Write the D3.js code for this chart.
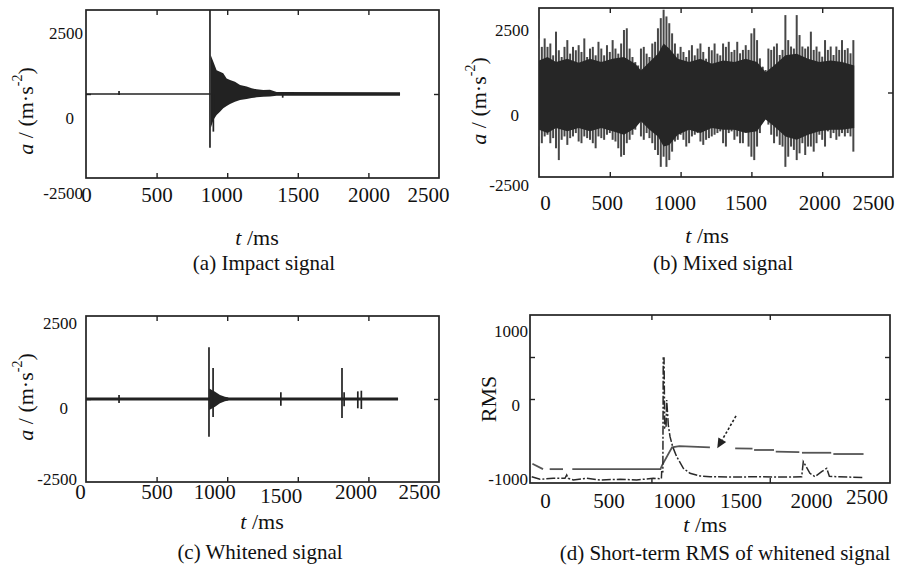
<!DOCTYPE html>
<html lang="en">
<head>
<meta charset="UTF-8">
<title>Impact, mixed and whitened signals</title>
<script src="https://d3js.org/d3.v7.min.js"></script>
<style>
  body { margin: 0; background: #fff; }
  svg text { font-family: "Liberation Serif", "Times New Roman", serif; }
</style>
</head>
<body>
<div id="chart"></div>
<script>
const width = 909, height = 572;

// shared ticks
const timeTicks = [0, 500, 1000, 1500, 2000, 2500];
const accTicks = [-2500, 0, 2500];
const rmsTicks = [-1000, 0, 1000];

// (a) impact signal, m/s^2
const impactEnd = 2224;
const impSpikeT  = [234, 878, 902, 1393];
const impSpikeHi = [90, 2500, 0, 40];
const impSpikeLo = [-30, -1600, -1120, -110];
const impEnvT  = [883, 902, 925, 949, 972, 996, 1020, 1055, 1091, 1138, 1173, 1209, 1256, 1303, 1350, 2224];
const impEnvHi = [1160, 960, 710, 665, 615, 465, 415, 365, 270, 220, 170, 140, 120, 130, 60, 55];
const impEnvLo = [-1020, -775, -625, -525, -425, -355, -300, -230, -180, -150, -120, -100, -80, -75, -50, -50];

// (b) mixed signal: peak per 20 ms bin
const mixStep = 20;
const mixHi = [1600, 1350, 1600, 1350, 1450, 1100, 1800, 1250, 1050, 1350,
  1550, 1150, 1350, 1250, 1400, 1200, 1600, 1050, 1300, 1350,
  1100, 1500, 1300, 1100, 1400, 1200, 1550, 1300, 1150, 1450,
  1850, 1900, 1300, 1050, 900, 800, 1300, 1350, 1150, 1050,
  1450, 1500, 1900, 2200, 2450, 2250, 2050, 1750, 1450, 1150,
  1350, 1200, 1050, 1250, 1400, 1100, 1300, 1450, 1200, 1000,
  1350, 1250, 1450, 1150, 1100, 1450, 1350, 1500, 1200, 1260,
  1500, 1160, 1260, 1400, 1260, 1750, 1900, 1550, 1010, 765,
  666, 1300, 1260, 1360, 1450, 1110, 1260, 2290, 1550, 1360,
  1300, 2290, 1700, 1360, 1300, 1360, 1800, 1260, 1360, 1210,
  1060, 1550, 1260, 1360, 1110, 1360, 1260, 1550, 1260, 1310,
  1160, 1550];
const mixLo = [-1600, -1500, -1300, -1250, -1500, -1350, -1650, -2000, -1400, -1300,
  -1550, -1350, -1300, -1200, -1450, -1500, -1300, -1350, -1400, -1500,
  -1650, -1300, -1350, -1400, -1250, -1200, -1400, -1450, -1650, -1900,
  -1850, -1500, -1400, -1250, -1100, -900, -1300, -1400, -1200, -1350,
  -1500, -1700, -1850, -2200, -1900, -2200, -2000, -1750, -1450, -1400,
  -1250, -1400, -1600, -1500, -1300, -1250, -1200, -1450, -1550, -1400,
  -1350, -1300, -1250, -1200, -1150, -1500, -1600, -1200, -1150, -1400,
  -1300, -1500, -1500, -1150, -1600, -1900, -2000, -1600, -1200, -850,
  -700, -950, -1250, -1500, -1300, -1550, -1600, -2200, -1900, -1600,
  -1700, -2000, -1800, -1500, -1850, -1600, -1600, -1750, -1500, -1250,
  -1400, -1600, -1150, -1350, -1200, -1400, -1300, -1200, -1300, -1200,
  -1300, -1750];
// dense core of the mixed signal
const coreT  = [0, 60, 120, 200, 280, 360, 440, 520, 600, 680, 720, 780, 840, 880, 920, 980, 1060, 1140, 1220, 1300, 1380, 1460, 1540, 1600, 1660, 1740, 1820, 1900, 1980, 2060, 2140, 2226];
const coreHi = [950, 1050, 900, 1000, 880, 1000, 900, 1000, 1050, 850, 650, 900, 1150, 1450, 1300, 1000, 900, 1000, 850, 950, 900, 1000, 900, 600, 800, 1100, 1150, 1000, 900, 950, 900, 800];
const coreLo = [-1100, -1200, -1050, -1150, -1050, -1150, -1050, -1150, -1250, -1050, -850, -1100, -1300, -1600, -1550, -1250, -1100, -1200, -1050, -1100, -1100, -1200, -1150, -800, -1000, -1300, -1400, -1250, -1150, -1100, -1100, -1050];

// (c) whitened signal
const whitEnd = 2210;
const whitSpikeT  = [234, 871, 900, 1380, 1813, 1828, 1925, 1950];
const whitSpikeHi = [120, 1560, 930, 200, 930, 200, 230, 250];
const whitSpikeLo = [-120, -1140, -540, -200, -570, -220, -280, -300];
const whitEnvT  = [873, 914, 949, 984, 1008];
const whitEnvHi = [320, 220, 120, 70, 45];
const whitEnvLo = [-330, -230, -130, -70, -45];

// (d) short-term RMS, two curves
const rmsA = [
  [[-95, -770], [-15, -835]],
  [[35, -835], [135, -835]],
  [[205, -835], [868, -835], [880, -790], [955, -575], [1010, -560], [1240, -575]],
  [[1430, -587], [1560, -590]],
  [[1572, -607], [1722, -607]],
  [[1735, -627], [1912, -633]],
  [[1932, -640], [2152, -640]],
  [[2168, -655], [2395, -655]]
];
const rmsB = [[-100, -925], [-38, -956], [62, -944], [150, -944], [163, -905], [175, -944],
  [213, -964], [313, -944], [414, -964], [564, -956], [689, -964], [814, -944], [875, -950],
  [877, -865], [886, -865], [889, 488], [895, 488], [900, -345], [910, -345], [915, -12],
  [927, -310], [940, -449], [960, -568], [990, -687], [1040, -825], [1090, -885], [1165, -917],
  [1241, -925], [1400, -930], [1600, -925], [1800, -930], [1930, -925], [1942, -746],
  [1962, -800], [1992, -885], [2030, -925], [2080, -865], [2118, -825], [2138, -920],
  [2200, -925], [2393, -935]];
const arrowFrom = [1436, -202];
const arrowTo = [1295, -587];

const ink = "#222";
const fmt = d => String(d);

const svg = d3.select("#chart").append("svg")
  .attr("width", width).attr("height", height);

function panel(c) {
  const g = svg.append("g");
  const x = d3.scaleLinear().domain(c.xDom).range([c.x0, c.x1]);
  const y = d3.scaleLinear().domain(c.yDom).range([c.y1, c.y0]);

  // inward frame ticks
  const tk = (axis, tx, ty) => g.append("g")
    .attr("transform", `translate(${tx},${ty})`)
    .call(axis.tickSize(-5).tickFormat(""))
    .call(a => a.select(".domain").remove())
    .call(a => a.selectAll("line").attr("stroke", ink).attr("stroke-width", 1.4));
  tk(d3.axisTop(x).tickValues(c.fxTicks), 0, c.y0);
  tk(d3.axisBottom(x).tickValues(c.fxTicks), 0, c.y1);
  tk(d3.axisLeft(y).tickValues(c.fyTicks), c.x0, 0);
  tk(d3.axisRight(y).tickValues(c.fyTicks), c.x1, 0);

  g.append("rect")
    .attr("x", c.x0).attr("y", c.y0)
    .attr("width", c.x1 - c.x0).attr("height", c.y1 - c.y0)
    .attr("fill", "none").attr("stroke", ink).attr("stroke-width", 1.7);

  // x tick labels
  g.append("g")
    .attr("transform", `translate(0,${c.xLabY})`)
    .call(d3.axisBottom(x).tickValues(timeTicks).tickFormat(fmt).tickSize(0).tickPadding(0))
    .attr("font-size", 21).attr("font-family", null)
    .call(a => a.select(".domain").remove())
    .call(a => a.selectAll("text")
      .attr("fill", "#111")
      .attr("dy", 0).attr("dominant-baseline", "central")
      .attr("dx", (d, i) => c.xLabDx[i])
      .attr("y", (d, i) => c.xLabDy[i]));

  // y tick labels (placed as in the source figure)
  const yl = d3.scaleLinear().domain(c.yDom).range(c.yLabRange);
  g.append("g")
    .attr("transform", `translate(${c.yLabRight},0)`)
    .call(d3.axisLeft(yl).tickValues(c.yTicks).tickFormat(fmt).tickSize(0).tickPadding(0))
    .attr("font-size", 17).attr("font-family", null)
    .call(a => a.select(".domain").remove())
    .call(a => a.selectAll("text")
      .attr("fill", "#111")
      .attr("dy", d => d === 0 ? c.zeroDy : 0)
      .attr("dx", d => d === 0 ? c.zeroDx : 0)
      .attr("dominant-baseline", "central"));

  // axis titles and caption
  const xt = g.append("text").attr("x", c.xTitle[0]).attr("y", c.xTitle[1])
    .attr("text-anchor", "middle").attr("dominant-baseline", "central")
    .attr("font-size", 22).attr("fill", "#111");
  xt.append("tspan").attr("font-style", "italic").text("t");
  xt.append("tspan").text(" /ms");

  const yt = g.append("text")
    .attr("transform", `translate(${c.yTitle[0]},${c.yTitle[1]}) rotate(-90)`)
    .attr("text-anchor", "middle").attr("dominant-baseline", "central")
    .attr("font-size", 22).attr("fill", "#111");
  if (c.rms) {
    yt.text("RMS");
  } else {
    yt.append("tspan").attr("font-style", "italic").text("a");
    yt.append("tspan").text(" / (m·s");
    yt.append("tspan").attr("font-size", 14).attr("dy", -8).text("-2");
    yt.append("tspan").attr("dy", 8).text(")");
  }

  g.append("text").attr("x", c.caption[0]).attr("y", c.caption[1])
    .attr("text-anchor", "middle").attr("dominant-baseline", "central")
    .attr("font-size", 21).attr("fill", "#111").text(c.caption[2]);

  return { g, x, y };
}

function spikes(p, ts, his, los, w, col) {
  p.g.append("g").selectAll("line")
    .data(ts.map((t, i) => ({ t, hi: his[i], lo: los[i] })))
    .join("line")
    .attr("x1", d => p.x(d.t)).attr("x2", d => p.x(d.t))
    .attr("y1", d => p.y(d.hi)).attr("y2", d => p.y(d.lo))
    .attr("stroke", col).attr("stroke-width", w);
}

function envelope(p, ts, his, los, col) {
  const area = d3.area()
    .x(d => p.x(d.t)).y0(d => p.y(d.lo)).y1(d => p.y(d.hi));
  p.g.append("path")
    .datum(ts.map((t, i) => ({ t, hi: his[i], lo: los[i] })))
    .attr("d", area).attr("fill", col || ink);
}

// ---- (a)
const pa = panel({
  x0: 86, x1: 439, y0: 10, y1: 178, xDom: [0, 2500], yDom: [-2500, 2500],
  fxTicks: [500, 1000, 1500, 2000], fyTicks: [0],
  yTicks: accTicks, yLabRange: [193, 33], yLabRight: 83, zeroDx: -9, zeroDy: 5,
  xLabY: 195, xLabDx: [0, 0, -6, 0, 0, -11], xLabDy: [0, 0, 0, 0, 0, 0],
  xTitle: [257, 237], yTitle: [25, 111], caption: [264, 263, "(a) Impact signal"]
});
pa.g.append("line")
  .attr("x1", pa.x(0)).attr("x2", pa.x(impEnvT[0]))
  .attr("y1", pa.y(0)).attr("y2", pa.y(0))
  .attr("stroke", ink).attr("stroke-width", 1.5);
envelope(pa, impEnvT, impEnvHi, impEnvLo);
spikes(pa, impSpikeT, impSpikeHi, impSpikeLo, 1.7, ink);

// ---- (b)
const pb = panel({
  x0: 539, x1: 893, y0: 8, y1: 177, xDom: [0, 2500], yDom: [-2500, 2500],
  fxTicks: [500, 1000, 1500, 2000], fyTicks: [0],
  yTicks: accTicks, yLabRange: [185, 30], yLabRight: 529, zeroDx: -10, zeroDy: 7,
  xLabY: 203, xLabDx: [6, -3, -6, -6, -3, -20], xLabDy: [0, 0, 0, 0, 0, 0],
  xTitle: [707, 235], yTitle: [478, 101], caption: [723, 263, "(b) Mixed signal"]
});
spikes(pb, mixHi.map((v, i) => i * mixStep), mixHi, mixLo, 2.0, "#474747");
envelope(pb, coreT, coreHi, coreLo, "#262626");

// ---- (c)
const pc = panel({
  x0: 86, x1: 439, y0: 316, y1: 482, xDom: [0, 2500], yDom: [-2500, 2500],
  fxTicks: [500, 1000, 1500, 2000], fyTicks: [0],
  yTicks: accTicks, yLabRange: [479, 323], yLabRight: 77, zeroDx: -9, zeroDy: 7,
  xLabY: 492, xLabDx: [-6, 0, -13, -17, -13, -20], xLabDy: [0, 0, 0, 4, 0, 0],
  xTitle: [262, 521], yTitle: [25, 397], caption: [260, 552, "(c) Whitened signal"]
});
pc.g.append("line")
  .attr("x1", pc.x(0)).attr("x2", pc.x(whitEnd))
  .attr("y1", pc.y(0)).attr("y2", pc.y(0))
  .attr("stroke", ink).attr("stroke-width", 3.2);
envelope(pc, whitEnvT, whitEnvHi, whitEnvLo);
spikes(pc, whitSpikeT, whitSpikeHi, whitSpikeLo, 1.7, ink);

// ---- (d)
const pd = panel({
  x0: 530, x1: 890, y0: 315, y1: 483, xDom: [-113, 2594], yDom: [-1000, 1000],
  fxTicks: [800, 1690], fyTicks: [0, 500], rms: true,
  yTicks: rmsTicks, yLabRange: [479, 331], yLabRight: 528, zeroDx: -8, zeroDy: 0,
  xLabY: 501, xLabDx: [0, -3, -4, -4, 0, -11], xLabDy: [0, 0, 0, 0, 0, -4],
  xTitle: [705, 524], yTitle: [488, 399], caption: [725, 553, "(d) Short-term RMS of whitened signal"]
});
const lineD = d3.line().x(d => pd.x(d[0])).y(d => pd.y(d[1]));
pd.g.append("g").selectAll("path").data(rmsA).join("path")
  .attr("d", lineD).attr("fill", "none")
  .attr("stroke", "#555").attr("stroke-width", 1.8);
pd.g.append("path").datum(rmsB)
  .attr("d", lineD).attr("fill", "none")
  .attr("stroke", "#2a2a2a").attr("stroke-width", 1.5)
  .attr("stroke-dasharray", "9,2,2,2");

// arrow annotation
const [ax0, ay0] = [pd.x(arrowFrom[0]), pd.y(arrowFrom[1])];
const [ax1, ay1] = [pd.x(arrowTo[0]), pd.y(arrowTo[1])];
const ang = Math.atan2(ay1 - ay0, ax1 - ax0);
const hl = 10, hw = 4.5;
const bx = ax1 - hl * Math.cos(ang), by = ay1 - hl * Math.sin(ang);
pd.g.append("line")
  .attr("x1", ax0).attr("y1", ay0).attr("x2", bx).attr("y2", by)
  .attr("stroke", ink).attr("stroke-width", 1.6).attr("stroke-dasharray", "2.5,2");
pd.g.append("path")
  .attr("d", `M${ax1},${ay1}L${bx + hw * Math.sin(ang)},${by - hw * Math.cos(ang)}` +
    `L${bx - hw * Math.sin(ang)},${by + hw * Math.cos(ang)}Z`)
  .attr("fill", ink);
</script>
</body>
</html>
